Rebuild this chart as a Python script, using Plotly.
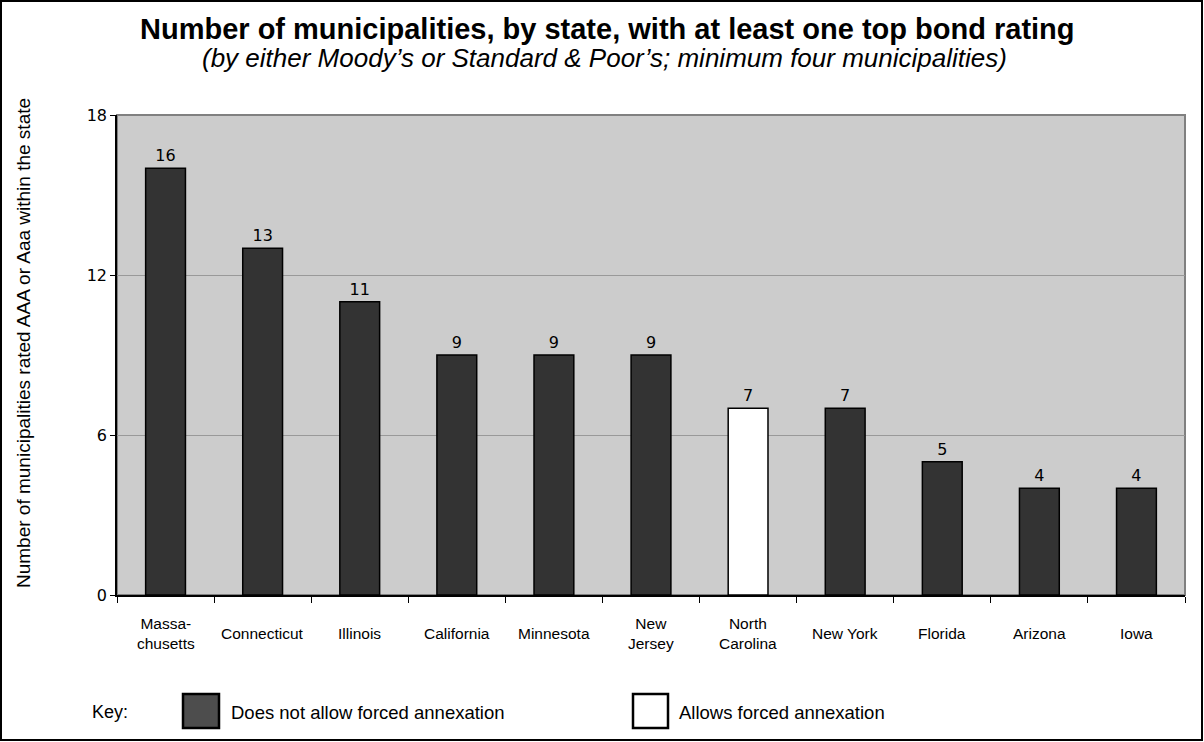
import plotly.graph_objects as go

states = ["Massa-<br>chusetts", "Connecticut", "Illinois", "California", "Minnesota",
          "New<br>Jersey", "North<br>Carolina", "New York", "Florida", "Arizona", "Iowa"]
counts = [16, 13, 11, 9, 9, 9, 7, 7, 5, 4, 4]
allows_forced = [False, False, False, False, False, False, True, False, False, False, False]
y_ticks = [0, 6, 12, 18]

W, H = 1204, 742
L, R, T, B = 117, 19, 115, 147
PW, PH = W - L - R, H - T - B

def px(x):
    return (x - L) / PW

def py(y):
    return (H - B - y) / PH

colors = ["#ffffff" if a else "#333333" for a in allows_forced]
ARIAL = "Liberation Sans, Arial"

fig = go.Figure()
fig.add_trace(go.Bar(
    x=list(range(len(states))), y=counts,
    marker=dict(color=colors, line=dict(color="#000000", width=1.5)),
    text=[str(c) for c in counts], textposition="outside",
    textfont=dict(family="DejaVu Sans", size=16, color="#000000"),
    cliponaxis=False, showlegend=False, hoverinfo="skip",
))

# category labels as annotations (vertically centered)
for i, s in enumerate(states):
    fig.add_annotation(x=i, y=py(633), xref="x", yref="paper", text=s, showarrow=False,
                       font=dict(family=ARIAL, size=15.5, color="#000000"),
                       xanchor="center", yanchor="middle", align="center")

shapes = []
# gray plot frame (top/right)
shapes.append(dict(type="rect", xref="paper", yref="paper", x0=0, x1=1, y0=0, y1=1,
                   line=dict(color="#808080", width=2), fillcolor="rgba(0,0,0,0)", layer="below"))
# outer border
shapes.append(dict(type="rect", xref="paper", yref="paper", x0=px(1), x1=px(1202), y0=py(740), y1=py(1),
                   line=dict(color="#000000", width=2), fillcolor="rgba(0,0,0,0)"))
# legend boxes
shapes.append(dict(type="rect", xref="paper", yref="paper", x0=px(183), x1=px(219), y0=py(728), y1=py(694),
                   line=dict(color="#000000", width=2.5), fillcolor="#4d4d4d"))
shapes.append(dict(type="rect", xref="paper", yref="paper", x0=px(633), x1=px(668), y0=py(728), y1=py(694),
                   line=dict(color="#000000", width=2.5), fillcolor="#ffffff"))

fig.add_annotation(x=px(90), y=py(712), xref="paper", yref="paper", text="Key:", showarrow=False,
                   xanchor="left", yanchor="middle",
                   font=dict(family=ARIAL, size=18, color="#000000"))
fig.add_annotation(x=px(229), y=py(712), xref="paper", yref="paper", text="Does not allow forced annexation",
                   showarrow=False, xanchor="left", yanchor="middle",
                   font=dict(family=ARIAL, size=18.5, color="#000000"))
fig.add_annotation(x=px(677), y=py(712), xref="paper", yref="paper", text="Allows forced annexation",
                   showarrow=False, xanchor="left", yanchor="middle",
                   font=dict(family=ARIAL, size=18.5, color="#000000"))

# title & subtitle
fig.add_annotation(x=px(607), y=py(29), xref="paper", yref="paper",
                   text="<b>Number of municipalities, by state, with at least one top bond rating</b>",
                   showarrow=False, xanchor="center", yanchor="middle",
                   font=dict(family=ARIAL, size=29, color="#000000"))
fig.add_annotation(x=px(604), y=py(58), xref="paper", yref="paper",
                   text="<i>(by either Moody’s or Standard &amp; Poor’s; minimum four municipalities)</i>",
                   showarrow=False, xanchor="center", yanchor="middle",
                   font=dict(family=ARIAL, size=26, color="#000000"))
# y axis title
fig.add_annotation(x=px(23), y=py(343), xref="paper", yref="paper",
                   text="Number of municipalities rated AAA or Aaa within the state",
                   showarrow=False, textangle=-90, xanchor="center", yanchor="middle",
                   font=dict(family=ARIAL, size=19, color="#000000"))

fig.update_layout(
    width=W, height=H,
    margin=dict(l=L, r=R, t=T, b=B, pad=0),
    paper_bgcolor="#ffffff", plot_bgcolor="#cccccc",
    bargap=0.59,
    shapes=shapes,
    xaxis=dict(range=[-0.5, len(states) - 0.5], tickmode="array",
               tickvals=[i - 0.5 for i in range(len(states) + 1)], ticktext=[""] * (len(states) + 1),
               ticks="outside", ticklen=6, tickcolor="#000000", tickwidth=1,
               showline=True, linecolor="#000000", linewidth=1.5, showgrid=False, zeroline=False,
               fixedrange=True),
    yaxis=dict(range=[0, 18], tickmode="array", tickvals=y_ticks, ticktext=[str(v) for v in y_ticks],
               ticks="outside", ticklen=5, tickcolor="#000000",
               tickfont=dict(family="DejaVu Sans", size=16, color="#000000"),
               showline=True, linecolor="#000000", linewidth=1.5,
               showgrid=True, gridcolor="#999999", gridwidth=1, zeroline=False),
)

fig.write_html("out.html", config={"displayModeBar": False},
               post_script="document.body.style.margin='0';document.body.style.overflow='hidden';")
